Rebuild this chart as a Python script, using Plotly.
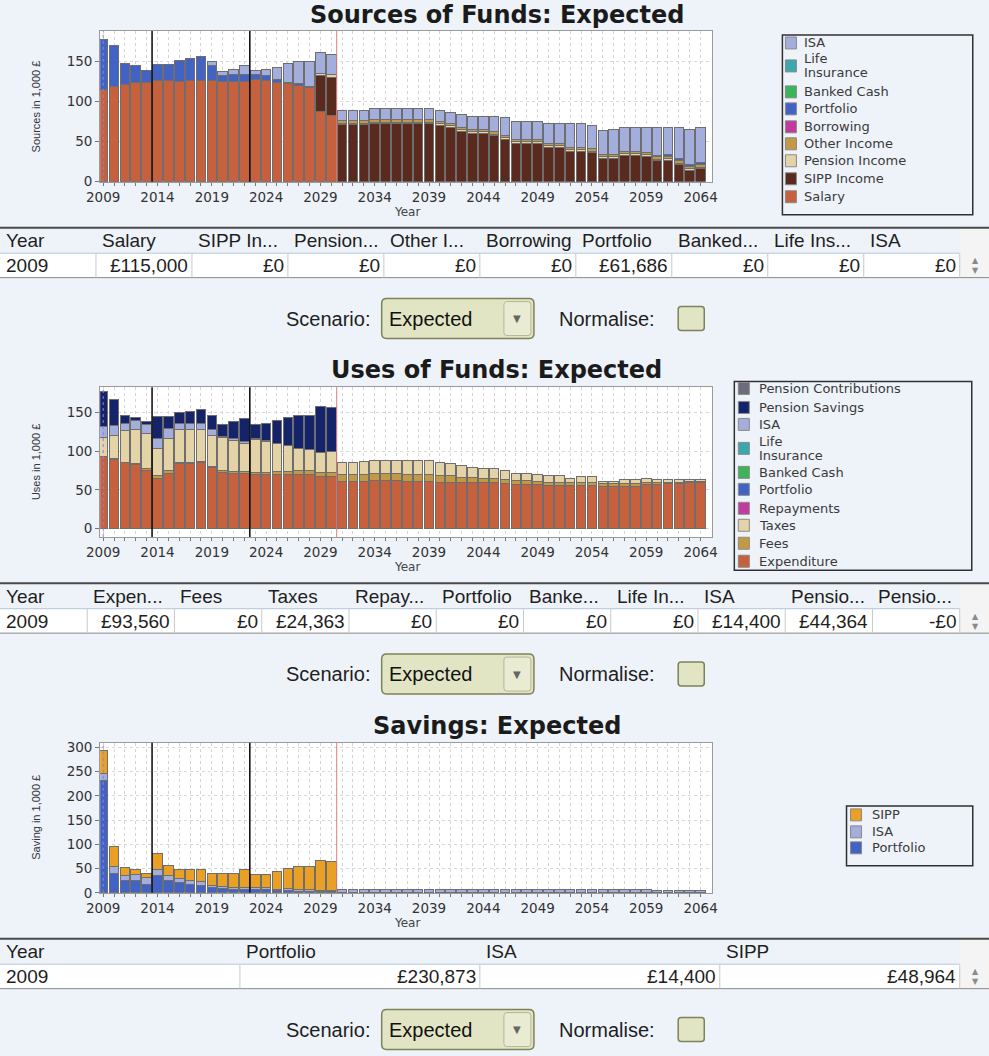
import plotly.graph_objects as go

W, H = 989, 1056
years = list(range(2009, 2065))
N = len(years)

# ---------------- Sources of Funds (in 1,000 £) ----------------
src_salary = [115, 119, 121, 123, 124, 126, 126, 125, 126, 126, 126, 125, 125, 125, 127, 126, 124, 122, 120, 117, 87, 83] + [0] * 34
src_sipp = [0] * 20 + [45, 47] + [71, 71, 71, 72, 72, 72, 72, 72, 72, 70, 68, 63, 60, 60, 57, 53, 48, 48, 48, 43, 43,
                                  38, 38, 36, 29, 29, 33, 33, 32, 26, 27, 21, 14, 16]
src_pension = [0] * 20 + [3, 3] + [2] * 34
src_other = [0] * 22 + [3] * 34
src_borrowing = [0] * N
src_portfolio = [61.7, 51, 25.6, 21, 14.7, 20, 20, 26, 27, 30, 18, 7, 8, 8, 6, 6.5, 3.5, 2, 2, 2, 0, 0] + [0] * 29 + [2, 2, 3, 2, 3]
src_banked = [0] * N
src_life = [0] * N
src_isa = [0] * 10 + [5, 4.6, 6.5, 12, 5.5, 7.5, 15, 23, 27, 30, 26, 25] + \
          [13, 13, 13, 14, 14, 14, 14, 14, 14, 14, 13, 16, 16, 16, 19, 22, 22, 22, 22, 24.5, 24.5, 29, 29, 29, 30, 31,
           29, 29, 30, 34, 33, 38, 44, 43]

# ---------------- Uses of Funds (in 1,000 £) ----------------
use_exp = [93.6, 89.6, 85, 82.8, 75.4, 64.7, 71, 84, 84, 85, 79, 73, 71, 71, 70, 70, 70, 70, 70, 70, 67.7, 67] + \
          [61, 61, 61, 62, 62, 62, 61, 61, 61, 60, 60, 59, 59, 59, 59, 58, 57, 57, 57, 56, 56, 56, 56, 56, 55, 55, 55,
           55, 57, 57, 58, 58, 59, 59]
use_fees = [0, 1, 1, 1, 2.6, 3.3, 4.4, 2, 2, 2, 1.6, 2.4, 3, 3, 3, 3, 4, 4, 5, 5, 4.3, 5] + \
           [9, 9, 9, 9, 9, 9, 9, 9, 9, 8, 8, 7, 7, 6, 6, 6, 5, 5, 4, 4, 4, 4, 3, 3, 3, 3, 3, 3, 3, 2, 2, 2, 2, 2]
use_taxes = [24.4, 30, 41, 45, 44.8, 35.4, 41.6, 42, 42, 41, 40, 43, 40, 36, 42.5, 40, 36, 34, 28, 27.6, 27, 28] + \
            [16, 16, 17, 17, 17, 17, 18, 18, 18, 18, 16, 15, 13, 13, 13, 11, 9, 9, 9, 8, 8, 5, 8, 8, 3, 3, 5, 5, 5, 4,
             3, 3, 2, 3]
use_repay = [0] * N
use_portfolio = [0] * N
use_banked = [0] * N
use_life = [0] * N
use_isa = [14.4, 13, 9, 11, 12, 12.6, 13, 8, 8, 8, 7.7, 1, 2.4, 2, 1.5, 1, 0, 0, 0, 0, 0, 0] + [0] * 34
use_psav = [44.4, 34, 10, 4, 3.5, 29, 15, 14, 16, 18, 18, 15, 21.6, 30, 18, 22.6, 30, 36, 43.5, 44, 59, 57] + [0] * 34
use_pcontrib = [0] * N

# ---------------- Savings (in 1,000 £) ----------------
sav_portfolio = [230.9, 40, 25, 26, 18, 36, 26, 21, 18, 16, 11, 8, 6, 6, 6, 6, 4, 4, 3, 3, 2, 2] + [1] * 34
sav_isa = [14.4, 14, 10, 12, 13, 11, 9, 9, 7, 7, 5, 5, 5, 5, 4, 4, 3, 4, 3, 3, 3, 3] + [6] * 28 + [5, 4, 4, 3, 3, 3]
sav_sipp = [49.0, 41, 17, 10, 9, 33, 21, 18, 22, 24, 24, 27, 29, 36, 27, 27, 37, 43, 49, 49, 61, 60] + [0] * 34

# ---------------- Table rows ----------------
t1_headers = ["Year", "Salary", "SIPP In...", "Pension...", "Other I...", "Borrowing", "Portfolio", "Banked...",
              "Life Ins...", "ISA"]
t1_values = ["2009", "£115,000", "£0", "£0", "£0", "£0", "£61,686", "£0", "£0", "£0"]
t2_headers = ["Year", "Expen...", "Fees", "Taxes", "Repay...", "Portfolio", "Banke...", "Life In...", "ISA",
              "Pensio...", "Pensio..."]
t2_values = ["2009", "£93,560", "£0", "£24,363", "£0", "£0", "£0", "£0", "£14,400", "£44,364", "-£0"]
t3_headers = ["Year", "Portfolio", "ISA", "SIPP"]
t3_values = ["2009", "£230,873", "£14,400", "£48,964"]

titles = ["Sources of Funds: Expected", "Uses of Funds: Expected", "Savings: Expected"]
ytitles = ["Sources in 1,000 £", "Uses in 1,000 £", "Saving in 1,000 £"]
scenario = "Expected"
markers = [2013.5, 2022.5]
retire = 2030.5

# colours
C = dict(salary='#C6603D', sipp_inc='#5B2A1E', pension='#E3D3A6', other='#C29A45', borrow='#C23AA0',
         portfolio='#4263C4', banked='#3CB55A', life='#3AA8AE', isa='#A3AEDD', psav='#15246A',
         pcontrib='#6B6B7B', sipp='#E9A024')

sources = [("Salary", src_salary, C['salary']), ("SIPP Income", src_sipp, C['sipp_inc']),
           ("Pension Income", src_pension, C['pension']), ("Other Income", src_other, C['other']),
           ("Borrowing", src_borrowing, C['borrow']), ("Portfolio", src_portfolio, C['portfolio']),
           ("Banked Cash", src_banked, C['banked']), ("Life Insurance", src_life, C['life']),
           ("ISA", src_isa, C['isa'])]
uses = [("Expenditure", use_exp, C['salary']), ("Fees", use_fees, C['other']), ("Taxes", use_taxes, C['pension']),
        ("Repayments", use_repay, C['borrow']), ("Portfolio", use_portfolio, C['portfolio']),
        ("Banked Cash", use_banked, C['banked']), ("Life Insurance", use_life, C['life']),
        ("ISA", use_isa, C['isa']), ("Pension Savings", use_psav, C['psav']),
        ("Pension Contributions", use_pcontrib, C['pcontrib'])]
savings = [("Portfolio", sav_portfolio, C['portfolio']), ("ISA", sav_isa, C['isa']), ("SIPP", sav_sipp, C['sipp'])]

FONT = "DejaVu Sans"
NARROW = "Liberation Sans, Arial, sans-serif"

# the photographed page appears offset/scaled slightly; positions below are target pixels
OX, OY, SX, SY = 14.0, 3.0, 0.979, 0.99


def X(p):
    return ((p - OX) / SX) / W


def Y(p):
    return 1 - ((p - OY) / SY) / H


shapes, annotations = [], []


def rect(x0, y0, x1, y1, fill=None, line=None, lw=1):
    shapes.append(dict(type='rect', xref='paper', yref='paper', x0=X(x0), x1=X(x1), y0=Y(y1), y1=Y(y0),
                       fillcolor=fill or 'rgba(0,0,0,0)',
                       line=dict(color=line or 'rgba(0,0,0,0)', width=lw if line else 0), layer='above'))


def hline(x0, x1, y, color, lw=1):
    shapes.append(dict(type='line', xref='paper', yref='paper', x0=X(x0), x1=X(x1), y0=Y(y), y1=Y(y),
                       line=dict(color=color, width=lw), layer='above'))


def vline(x, y0, y1, color, lw=1):
    shapes.append(dict(type='line', xref='paper', yref='paper', x0=X(x), x1=X(x), y0=Y(y0), y1=Y(y1),
                       line=dict(color=color, width=lw), layer='above'))


def rrect(x0, y0, x1, y1, r, fill, line, lw=1):
    rx, ry = r / W, r / H
    a, b, c, d = X(x0), X(x1), Y(y0), Y(y1)
    path = (f"M {a + rx},{c} L {b - rx},{c} Q {b},{c} {b},{c - ry} L {b},{d + ry} Q {b},{d} {b - rx},{d} "
            f"L {a + rx},{d} Q {a},{d} {a},{d + ry} L {a},{c - ry} Q {a},{c} {a + rx},{c} Z")
    shapes.append(dict(type='path', xref='paper', yref='paper', path=path, fillcolor=fill,
                       line=dict(color=line, width=lw), layer='above'))


def text(x, y, s, size, family=FONT, color='#222', xanchor='left', yanchor='middle', angle=0, weight='normal'):
    annotations.append(dict(x=X(x), y=Y(y), xref='paper', yref='paper', text=s, showarrow=False,
                            xanchor=xanchor, yanchor=yanchor, textangle=angle, align='left',
                            font=dict(family=family, size=size, color=color, weight=weight)))


fig = go.Figure()

# chart geometry in target pixels: (top, bottom, y range)
charts = [(30, 181, [0, 187.5], sources), (386.7, 536.7, [-11, 183], uses), (742.7, 893, [0, 309.5], savings)]
xrange_ = [2008.72, 2065.08]
tick_text = [str(y) if (y - 2009) % 5 == 0 else "" for y in years]

layout_axes = {}
for i, (top, bot, yr, series) in enumerate(charts):
    sfx = "" if i == 0 else str(i + 1)
    for name, vals, col in series:
        fig.add_trace(go.Bar(x=years, y=vals, name=name, xaxis='x' + sfx, yaxis='y' + sfx,
                             marker=dict(color=col, line=dict(color='#6E6E6E', width=1)), showlegend=False))
    layout_axes['xaxis' + sfx] = dict(domain=[X(100), X(711)], range=xrange_, anchor='y' + sfx,
                                      tickvals=years, ticktext=tick_text, ticks='outside', ticklen=3,
                                      tickcolor='#777', showgrid=True, gridcolor='#D4D4D4', griddash='dot',
                                      gridwidth=1, showline=True, linecolor='#9A9A9A', mirror=True,
                                      zeroline=False, tickfont=dict(family=FONT, size=13.5, color='#333'))
    layout_axes['yaxis' + sfx] = dict(domain=[Y(bot), Y(top)], range=yr, anchor='x' + sfx, dtick=50,
                                      tick0=0, ticks='outside', ticklen=4, tickcolor='#777', showgrid=True,
                                      gridcolor='#D8D8D8', griddash='dot', showline=True, linecolor='#9A9A9A',
                                      mirror=True, zeroline=False,
                                      tickfont=dict(family=FONT, size=13.5, color='#333'))
    xr, yr_ = 'x' + sfx, 'y' + sfx + ' domain'
    for m in markers:
        shapes.append(dict(type='line', xref=xr, yref=yr_, x0=m, x1=m, y0=0, y1=1,
                           line=dict(color='#151515', width=1.6), layer='above'))
    shapes.append(dict(type='line', xref=xr, yref=yr_, x0=retire, x1=retire, y0=0, y1=1,
                       line=dict(color='#E27A7A', width=1), layer='above'))
    shapes.append(dict(type='line', xref=xr, yref=yr_, x0=years[0], x1=years[0], y0=0, y1=1,
                       line=dict(color='#8C80E6', width=1, dash='dot'), layer='above'))
    # titles
    text(496, 14 + 356 * i, titles[i], 24, weight='bold', color='#1B1B1B', xanchor='center')
    text(36, (top + bot) / 2, ytitles[i], 11, family=NARROW, color='#333', xanchor='center', angle=-90)
    text(406, bot + 30, "Year", 12, color='#444', xanchor='center')


# ---------------- legends ----------------
def legend(box, sx, tx, items):
    rect(*box, fill=None, line='#303030', lw=1.5)
    for label, col, yc in items:
        rect(sx, yc - 6, sx + 11, yc + 6, fill=col, line='#8A8A8A')
        words = label.split(" ")
        if label == "Life Insurance":
            text(tx, yc - 7, words[0], 13, color='#3A3A3A')
            text(tx, yc + 7, words[1], 13, color='#3A3A3A')
        else:
            text(tx, yc, label, 13, color='#3A3A3A')


src_leg_y = [42, 65, 91, 108, 126, 143, 160, 178, 196]
legend((781, 34, 971, 214), 784, 801,
       [(n, c, y) for (n, v, c), y in zip(reversed(sources), src_leg_y)])
use_leg_y = [388, 407, 424, 448, 472, 489, 508, 525, 543, 561]
legend((733, 381, 970, 570), 737, 756,
       [(n, c, y) for (n, v, c), y in zip(reversed(uses), use_leg_y)])
sav_leg_y = [815, 832, 848]
legend((845, 806, 971, 866), 849, 868,
       [(n, c, y) for (n, v, c), y in zip(reversed(savings), sav_leg_y)])


# ---------------- tables & controls ----------------
def table(top, headers, values):
    x_end = 958
    n = len(headers)
    cw = x_end / n
    rect(-20, top, W + 20, top + 50, fill='#F4F4F4')
    rect(-20, top, x_end, top + 25, fill='#EEF3F9')
    rect(-20, top + 26, x_end, top + 50, fill='#FFFFFF')
    hline(-20, W + 20, top, '#4A4A4A', 2)
    hline(-20, x_end, top + 25.5, '#B5C8E2', 1)
    hline(-20, W + 20, top + 50, '#8A8A8A', 1)
    for k in range(1, n + 1):
        vline(cw * k, top + 26, top + 50, '#C9C9C9', 1)
    for k, (h, v) in enumerate(zip(headers, values)):
        text(cw * k + 4 if k else 4, top + 13, h, 19, family=NARROW, color='#1E1E1E')
        if k == 0:
            text(4, top + 38, v, 19, family=NARROW, color='#1E1E1E')
        else:
            text(cw * (k + 1) - 2, top + 38, v, 19, family=NARROW, color='#1E1E1E', xanchor='right')
    text(974, top + 33, "▲", 8, color='#8A8A8A', xanchor='center')
    text(974, top + 43, "▼", 8, color='#8A8A8A', xanchor='center')
    # scenario controls
    cy = top + 91
    text(372, cy, "Scenario:", 20, family=NARROW, color='#1E1E1E', xanchor='right')
    rrect(381, cy - 20, 533, cy + 20, 5, '#E2E5C4', '#7C825B', 1.5)
    rrect(503, cy - 17, 530, cy + 17, 3, '#E9EBD3', '#B4B892', 1)
    text(386, cy, scenario, 20, family=NARROW, color='#111')
    text(516.5, cy, "▼", 10, color='#666', xanchor='center')
    text(656, cy, "Normalise:", 20, family=NARROW, color='#1E1E1E', xanchor='right')
    rrect(677, cy - 12, 703, cy + 12, 3, '#E2E5C4', '#7C825B', 1.5)


table(227, t1_headers, t1_values)
table(583, t2_headers, t2_values)
table(939, t3_headers, t3_values)

fig.update_layout(width=W, height=H, margin=dict(l=0, r=0, t=0, b=0), barmode='stack', bargap=0.12,
                  paper_bgcolor='#EEF2F9', plot_bgcolor='#FFFFFF', showlegend=False,
                  shapes=shapes, annotations=annotations, **layout_axes)

fig.write_html("out.html", config={'displayModeBar': False},
               post_script=("document.documentElement.style.margin='0px';"
                            "document.body.style.margin='0px';document.body.style.padding='0px';"
                            "document.documentElement.style.overflow='hidden';"
                            "document.body.style.overflow='hidden';"
                            "var d=document.getElementById('{plot_id}');"
                            "d.style.position='absolute';d.style.left='0px';d.style.top='0px';"))
